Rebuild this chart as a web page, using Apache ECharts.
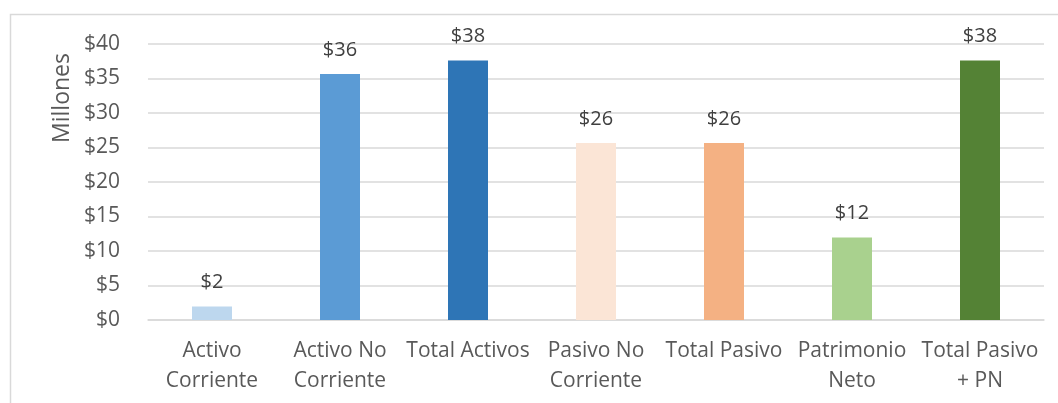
<!DOCTYPE html>
<html>
<head>
<meta charset="utf-8">
<script src="https://cdn.jsdelivr.net/npm/echarts@6/dist/echarts.min.js"></script>
<style>
  html, body { margin: 0; padding: 0; background: #fff; }
  #chart { width: 1058px; height: 403px; }
</style>
</head>
<body>
<div id="chart"></div>
<script>
// categorias y valores (millones)
var categorias = ['Activo\nCorriente', 'Activo No\nCorriente', 'Total Activos', 'Pasivo No\nCorriente', 'Total Pasivo', 'Patrimonio\nNeto', 'Total Pasivo\n+ PN'];
var valores = [1.95, 35.65, 37.6, 25.65, 25.65, 11.95, 37.6];
var colores = ['#BDD7EE', '#5B9BD5', '#2E75B6', '#FBE5D6', '#F4B183', '#A9D18E', '#548235'];

var fuente = '"Open Sans", "Noto Sans", sans-serif';

var myChart = echarts.init(document.getElementById('chart'));

var datos = valores.map(function (v, i) {
    return { value: v, itemStyle: { color: colores[i] } };
});

var option = {
    animation: false,
    textStyle: { fontFamily: fuente },
    grid: { left: 148, right: 14, top: 44, bottom: 83 },
    graphic: [
        {
            type: 'rect',
            shape: { x: 10.5, y: 14.5, width: 1200, height: 600 },
            style: { fill: 'none', stroke: '#d9d9d9', lineWidth: 1.5 },
            silent: true
        },
        {
            type: 'text',
            x: 62,
            y: 98,
            rotation: Math.PI / 2,
            style: {
                text: 'Millones',
                x: 0, y: 0,
                align: 'center',
                verticalAlign: 'middle',
                fill: '#595959',
                font: '23px ' + fuente
            }
        }
    ],
    xAxis: {
        type: 'category',
        data: categorias,
        axisLine: { lineStyle: { color: '#d9d9d9', width: 1.5 } },
        axisTick: { show: false },
        axisLabel: {
            color: '#595959',
            fontSize: 21,
            lineHeight: 30,
            margin: 16,
            interval: 0
        }
    },
    yAxis: {
        type: 'value',
        min: 0,
        max: 40,
        interval: 5,
        axisLine: { show: false },
        axisTick: { show: false },
        splitLine: { lineStyle: { color: '#d9d9d9', width: 1.5 } },
        axisLabel: {
            color: '#595959',
            fontSize: 21,
            margin: 28,
            formatter: function (v) { return '$' + v; }
        }
    },
    series: [
        {
            type: 'bar',
            barWidth: 40,
            data: datos,
            label: {
                show: true,
                position: 'top',
                distance: 14,
                color: '#404040',
                fontSize: 20,
                formatter: function (p) { return '$' + Math.round(p.value); }
            }
        }
    ]
};

myChart.setOption(option);
</script>
</body>
</html>
